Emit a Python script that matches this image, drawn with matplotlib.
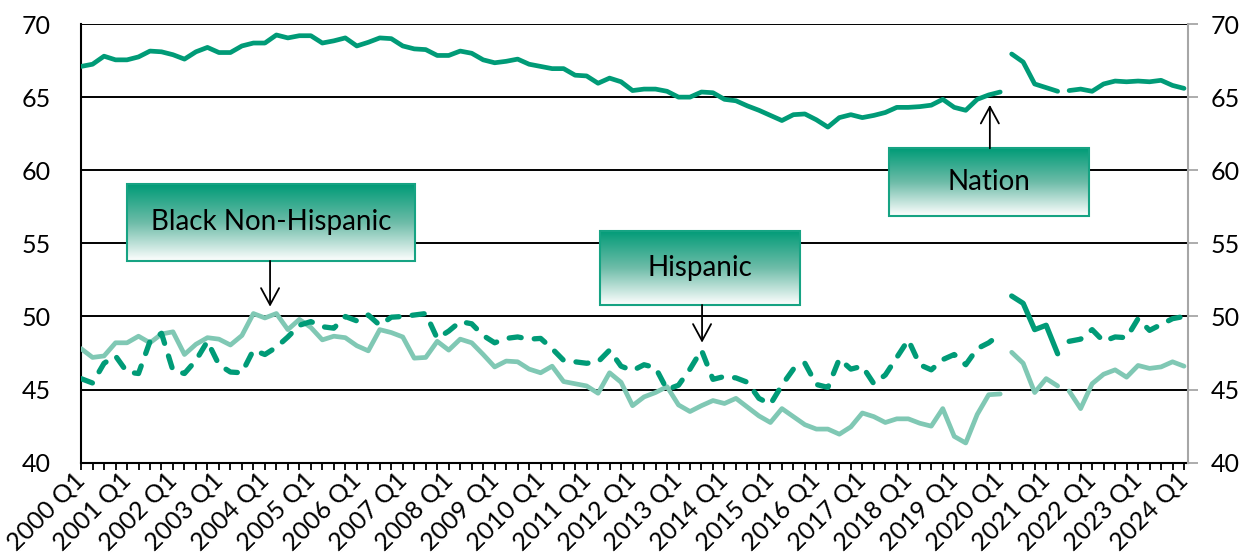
import numpy as np
import matplotlib
matplotlib.use("Agg")
import matplotlib.pyplot as plt
from matplotlib.patches import Rectangle
from matplotlib.colors import LinearSegmentedColormap

plt.rcParams['font.family'] = ['Lato', 'DejaVu Sans']

# Quarterly categories, 2000 Q1 .. 2024 Q1
years = list(range(2000, 2025))
quarters = [f"{y} Q{q}" for y in years for q in (1, 2, 3, 4)][:97]

# Homeownership rates (%), one row per year
nation = [
    67.1, 67.25, 67.8, 67.55,
    67.55, 67.75, 68.15, 68.1,
    67.9, 67.6, 68.1, 68.4,
    68.05, 68.05, 68.5, 68.7,
    68.7, 69.25, 69.05, 69.2,
    69.2, 68.7, 68.85, 69.05,
    68.5, 68.75, 69.05, 69.0,
    68.5, 68.3, 68.25, 67.85,
    67.85, 68.15, 68.0, 67.55,
    67.35, 67.45, 67.6, 67.25,
    67.1, 66.95, 66.95, 66.5,
    66.45, 65.95, 66.3, 66.05,
    65.45, 65.55, 65.55, 65.4,
    65.0, 65.0, 65.35, 65.3,
    64.85, 64.75, 64.4, 64.1,
    63.75, 63.4, 63.8, 63.85,
    63.45, 62.95, 63.6, 63.8,
    63.6, 63.75, 63.95, 64.3,
    64.3, 64.35, 64.45, 64.85,
    64.3, 64.1, 64.85, 65.15,
    65.35, 67.95, 67.4, 65.9,
    65.65, 65.4, 65.45, 65.55,
    65.4, 65.9, 66.1, 66.05,
    66.1, 66.05, 66.15, 65.8,
    65.6,
]

black_non_hispanic = [
    47.8, 47.2, 47.3, 48.2,
    48.2, 48.65, 48.2, 48.8,
    48.95, 47.4, 48.1, 48.55,
    48.45, 48.05, 48.7, 50.2,
    49.9, 50.2, 49.1, 49.8,
    49.25, 48.4, 48.65, 48.55,
    48.0, 47.65, 49.1, 48.9,
    48.6, 47.15, 47.2, 48.3,
    47.7, 48.45, 48.2, 47.4,
    46.55, 46.95, 46.9, 46.4,
    46.15, 46.6, 45.55, 45.4,
    45.25, 44.75, 46.15, 45.5,
    43.9, 44.5, 44.8, 45.2,
    43.95, 43.5, 43.9, 44.25,
    44.05, 44.4, 43.8, 43.2,
    42.75, 43.7, 43.15, 42.6,
    42.3, 42.3, 41.95, 42.45,
    43.4, 43.15, 42.75, 43.0,
    43.0, 42.7, 42.5, 43.7,
    41.8, 41.35, 43.3, 44.65,
    44.7, 47.55, 46.8, 44.8,
    45.75, 45.25, 44.9, 43.7,
    45.4, 46.05, 46.35, 45.85,
    46.65, 46.45, 46.55, 46.9,
    46.6,
]

hispanic = [
    45.75, 45.45, 46.8, 47.3,
    46.2, 46.1, 48.3, 48.85,
    46.3, 46.1, 47.0, 48.3,
    46.7, 46.2, 46.15, 47.7,
    47.4, 47.9, 48.6, 49.4,
    49.65, 49.3, 49.2, 50.0,
    49.7, 50.1, 49.4, 49.95,
    50.0, 50.1, 50.2, 48.5,
    49.0, 49.65, 49.5, 48.7,
    48.2, 48.5, 48.6, 48.45,
    48.5, 47.8, 47.0, 46.9,
    46.8, 46.9, 47.7, 46.6,
    46.3, 46.7, 46.5, 45.0,
    45.3, 46.4, 47.7, 45.7,
    45.9, 45.8, 45.5, 44.4,
    44.0, 45.3, 46.4, 46.8,
    45.35, 45.15, 47.1, 46.4,
    46.6, 45.4, 46.0, 47.2,
    48.4, 46.7, 46.35, 47.05,
    47.4, 46.7, 47.8, 48.2,
    48.8, 51.4, 50.9, 49.1,
    49.4, 47.45, 48.3, 48.45,
    49.1, 48.3, 48.6, 48.55,
    49.85, 49.05, 49.45, 49.85,
    50.0,
]

# Series are drawn in three unconnected pieces: through 2020 Q1,
# 2020 Q2 - 2021 Q2, and from 2021 Q3 on.
segments = [(0, 81), (81, 86), (86, 97)]

DARK = '#009B77'
LIGHT = '#80C8B4'
GRID = '#000000'
TICK_FS = 18

fig = plt.figure(figsize=(12.49, 5.56), dpi=100)
ax = fig.add_axes([0.0649, 0.1678, 0.9512 - 0.0649, 0.9568 - 0.1678])

x = np.arange(len(quarters))
nat = np.array(nation)
blk = np.array(black_non_hispanic)
his = np.array(hispanic)

for a, b in segments:
    ax.plot(x[a:b], blk[a:b], color=LIGHT, lw=3.4, solid_capstyle='round',
            solid_joinstyle='round', zorder=3)
for i, (a, b) in enumerate(segments):
    if i == 1:
        ax.plot(x[a:b], his[a:b], color=DARK, lw=3.8, solid_capstyle='round',
                solid_joinstyle='round', zorder=4)
    else:
        ln, = ax.plot(x[a:b], his[a:b], color=DARK, lw=3.8,
                      dash_capstyle='round', dash_joinstyle='round', zorder=4)
        ln.set_dashes((2.3, 2.5))
for a, b in segments:
    ax.plot(x[a:b], nat[a:b], color=DARK, lw=3.4, solid_capstyle='round',
            solid_joinstyle='round', zorder=4)

XMAX = 96.35
ax.set_xlim(0, XMAX)
ax.set_ylim(40, 70)
ax.set_yticks(np.arange(40, 71, 5))
ax.yaxis.grid(True, color=GRID, lw=1.4, zorder=1)
ax.set_axisbelow(True)

ax.set_xticks(x)
ax.set_xticklabels([q if q.endswith('Q1') else '' for q in quarters])
for lab in ax.get_xticklabels():
    lab.set_rotation(45)
    lab.set_ha('right')
    lab.set_va('center')
    lab.set_rotation_mode('anchor')

ax.tick_params(axis='x', direction='out', length=5, width=1.3, color='black',
               labelsize=TICK_FS, pad=5)
ax.tick_params(axis='y', length=0, labelsize=TICK_FS, pad=22)

for side in ('top', 'right'):
    ax.spines[side].set_visible(False)
ax.spines['left'].set_linewidth(1.5)
ax.spines['bottom'].set_linewidth(1.5)

# Secondary axis on the right with the same scale
ax2 = ax.twinx()
ax2.set_ylim(40, 70)
ax2.set_yticks(np.arange(40, 71, 5))
for side in ('top', 'left', 'bottom'):
    ax2.spines[side].set_visible(False)
ax2.spines['right'].set_color('#A6A6A6')
ax2.spines['right'].set_linewidth(1.5)
ax2.tick_params(axis='y', direction='out', length=7, width=1.3, color='#A6A6A6',
                labelsize=TICK_FS, pad=9)

# Gradient label boxes with arrows pointing at the series
cmap = LinearSegmentedColormap.from_list('boxfade', ['#FFFFFF', '#6DBCA8', '#009B77'])
grad = np.linspace(1, 0, 256).reshape(-1, 1)


def label_box(x0, x1, y0, y1, text, tip, base):
    ax.imshow(grad, extent=(x0, x1, y0, y1), origin='upper', cmap=cmap,
              aspect='auto', zorder=6, interpolation='bilinear')
    ax.add_patch(Rectangle((x0, y0), x1 - x0, y1 - y0, fill=False,
                           edgecolor='#16A383', lw=1.5, zorder=7))
    ax.text((x0 + x1) / 2, (y0 + y1) / 2, text, ha='center', va='center',
            fontsize=20, color='black', zorder=8)
    ax.annotate('', xy=tip, xytext=base, zorder=8,
                arrowprops=dict(arrowstyle='->,head_length=1.2,head_width=0.65',
                                color='black', lw=1.3, shrinkA=0, shrinkB=0))


label_box(4.03, 29.04, 53.8, 59.06, 'Black Non-Hispanic', (16.45, 50.67), (16.45, 53.8))
label_box(45.17, 62.58, 50.79, 55.87, 'Hispanic', (54.05, 48.21), (54.05, 50.79))
label_box(70.35, 87.75, 56.87, 61.5, 'Nation', (79.1, 64.47), (79.1, 61.5))

ax.set_xlim(0, XMAX)
ax.set_ylim(40, 70)

fig.savefig('out.png', dpi=100)
